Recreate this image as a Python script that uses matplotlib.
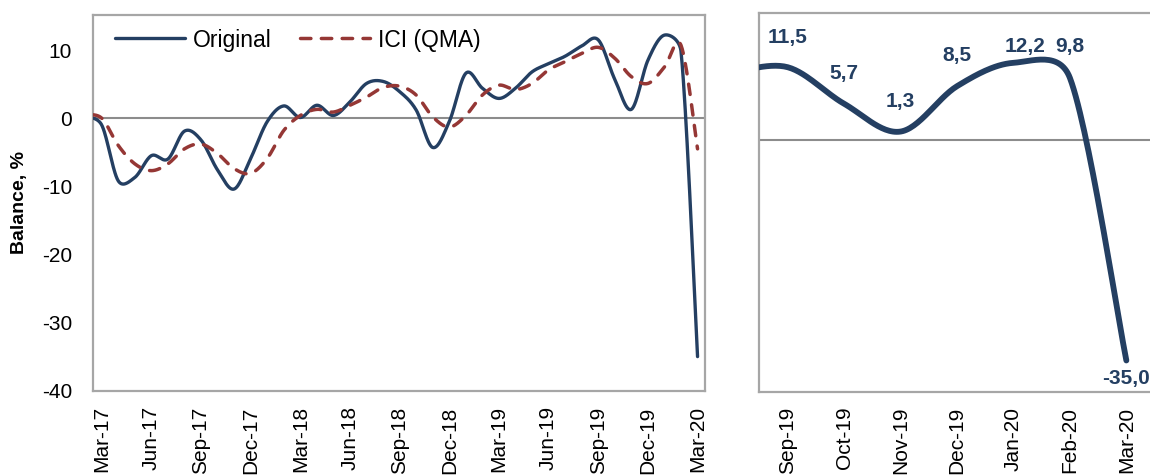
import numpy as np
import matplotlib
matplotlib.use("Agg")
import matplotlib.pyplot as plt

plt.rcParams['font.family'] = ['Liberation Sans', 'DejaVu Sans']

# ---------------- data ----------------
# monthly, Feb-17 .. Mar-20 (Feb-17 sits just left of the visible axis)
months = ["Feb-17", "Mar-17", "Apr-17", "May-17", "Jun-17", "Jul-17", "Aug-17", "Sep-17",
          "Oct-17", "Nov-17", "Dec-17", "Jan-18", "Feb-18", "Mar-18", "Apr-18", "May-18",
          "Jun-18", "Jul-18", "Aug-18", "Sep-18", "Oct-18", "Nov-18", "Dec-18", "Jan-19",
          "Feb-19", "Mar-19", "Apr-19", "May-19", "Jun-19", "Jul-19", "Aug-19", "Sep-19",
          "Oct-19", "Nov-19", "Dec-19", "Jan-20", "Feb-20", "Mar-20"]
original = [0.3, -1.0, -9.2, -8.7, -5.5, -6.0, -1.9, -3.2, -7.6, -10.4, -5.9, -0.5, 1.8,
            0.1, 1.9, 0.4, 2.4, 5.1, 5.4, 3.9, 1.2, -4.3, -0.5, 6.6, 4.4, 2.9, 4.4, 6.8,
            8.0, 9.1, 10.6, 11.5, 5.7, 1.3, 8.5, 12.2, 9.8, -35.0]
ici_qma = [0.5, 0.0, -4.0, -6.7, -7.7, -6.7, -4.5, -3.8, -5.2, -7.4, -8.1, -5.9, -1.8,
           0.4, 1.3, 0.9, 1.9, 3.1, 4.5, 4.7, 3.4, 0.2, -1.3, 0.4, 3.4, 4.85, 4.2, 5.1,
           7.1, 8.3, 9.5, 10.4, 8.8, 6.1, 5.1, 7.5, 10.7, -4.5]
left_ticks = ["Mar-17", "Jun-17", "Sep-17", "Dec-17", "Mar-18", "Jun-18", "Sep-18",
              "Dec-18", "Mar-19", "Jun-19", "Sep-19", "Dec-19", "Mar-20"]
right_months = ["Sep-19", "Oct-19", "Nov-19", "Dec-19", "Jan-20", "Feb-20", "Mar-20"]
legend_labels = ["Original", "ICI (QMA)"]
y_label = "Balance, %"

NAVY = "#243F62"
RED = "#953735"
GRID = "#8C8C8C"
SPINE = "#A6A6A6"


def smooth(ax, x, y, n=30, k=0.5):
    """Excel-like smoothed line (Catmull-Rom Bezier with limited handles), in pixel space."""
    P = ax.transData.transform(np.column_stack([np.asarray(x, float), np.asarray(y, float)]))
    N = len(P)
    t = np.linspace(0, 1, n, endpoint=False)[:, None]
    out = []
    for i in range(N - 1):
        p1, p2 = P[i], P[i + 1]
        p0 = P[i - 1] if i > 0 else p1
        p3 = P[i + 2] if i + 2 < N else p2
        d12 = np.hypot(*(p2 - p1))
        h1 = (p2 - p0) / 6.0
        h2 = (p3 - p1) / 6.0
        for h in (h1, h2):
            L = np.hypot(*h)
            if L > k * d12 and L > 0:
                h *= k * d12 / L
        c1 = p1 + h1
        c2 = p2 - h2
        b = ((1 - t) ** 3) * p1 + 3 * ((1 - t) ** 2) * t * c1 + 3 * (1 - t) * t ** 2 * c2 + t ** 3 * p2
        out.append(b)
    out.append(P[-1][None, :])
    out = np.vstack(out)
    d = ax.transData.inverted().transform(out)
    return d[:, 0], d[:, 1]


W, H = 1150, 475
fig = plt.figure(figsize=(W / 100, H / 100), dpi=100)

# ---------------- left chart ----------------
axL = fig.add_axes([93 / W, (H - 391) / H, (705 - 93) / W, (391 - 15) / H])
axL.set_xlim(-0.526, 36.45)
axL.set_ylim(-40.05, 15.15)
xm = np.arange(len(months)) - 1  # Mar-17 -> 0
sx, sy = smooth(axL, xm, original)
axL.plot(sx, sy, color=NAVY, lw=2.4, solid_capstyle='round', zorder=3, label=legend_labels[0])
ix, iy = smooth(axL, xm, ici_qma)
axL.plot(ix, iy, color=RED, lw=2.5, dashes=(3.0, 3.0), dash_capstyle='round',
         zorder=4, label=legend_labels[1])
axL.axhline(0, color=GRID, lw=1.5, zorder=1)
axL.set_yticks([-40, -30, -20, -10, 0, 10])
axL.set_yticklabels(["-40", "-30", "-20", "-10", "0", "10"])
axL.set_xticks(np.arange(0, 37, 3))
axL.set_xticklabels(left_ticks, rotation=90, va='top', ha='center')
axL.tick_params(axis='both', length=0, labelsize=15, colors='black')
axL.tick_params(axis='y', pad=15)
axL.tick_params(axis='x', pad=11)
for s in axL.spines.values():
    s.set_color(SPINE)
    s.set_linewidth(1.6)
leg = axL.legend(loc='center left', bbox_to_anchor=((115 - 93) / 612, (391 - 40) / 376),
                 ncol=2, frameon=False, fontsize=16.5, handlelength=3.05, handletextpad=0.35,
                 columnspacing=1.25, borderpad=0, borderaxespad=0)
fig.text(20 / W, (H - 203) / H, y_label, rotation=90, ha='center', va='center',
         fontsize=14, fontweight='bold')

# ---------------- right chart ----------------
axR = fig.add_axes([759 / W, (H - 392) / H, (1154 - 759) / W, (392 - 13) / H])
axR.set_xlim(-0.51, 6.49)
axR.set_ylim(-40, 20.1)
n_r = len(right_months)
r_vals = original[-(n_r + 1):]          # includes Aug-19 (clipped at left edge)
rx = np.arange(len(r_vals)) - 1          # Sep-19 -> 0
rsx, rsy = smooth(axR, rx, r_vals)
axR.plot(rsx, rsy, color=NAVY, lw=4.2, solid_capstyle='round', zorder=3)
axR.axhline(0, color=GRID, lw=1.5, zorder=1)
axR.set_yticks([])
axR.set_xticks(np.arange(n_r))
axR.set_xticklabels(right_months, rotation=90, va='top', ha='center')
axR.tick_params(axis='both', length=0, labelsize=15, colors='black')
axR.tick_params(axis='x', pad=10.5)
for s in axR.spines.values():
    s.set_color(SPINE)
    s.set_linewidth(1.6)
axR.spines['right'].set_visible(False)

# data labels (offsets in pixels)
label_offsets = [(0, 30), (0, 30), (0, 30), (0, 31), (12, 16), (0, 31), (0, -18)]
for i, v in enumerate(r_vals[1:]):
    dx, dy = label_offsets[i]
    axR.annotate(f"{v:.1f}".replace('.', ','), (i, v),
                 xytext=(dx * 0.72, dy * 0.72), textcoords='offset points',
                 ha='center', va='center', fontsize=15, fontweight='bold', color=NAVY,
                 annotation_clip=False)

fig.savefig("out.png", dpi=100)
